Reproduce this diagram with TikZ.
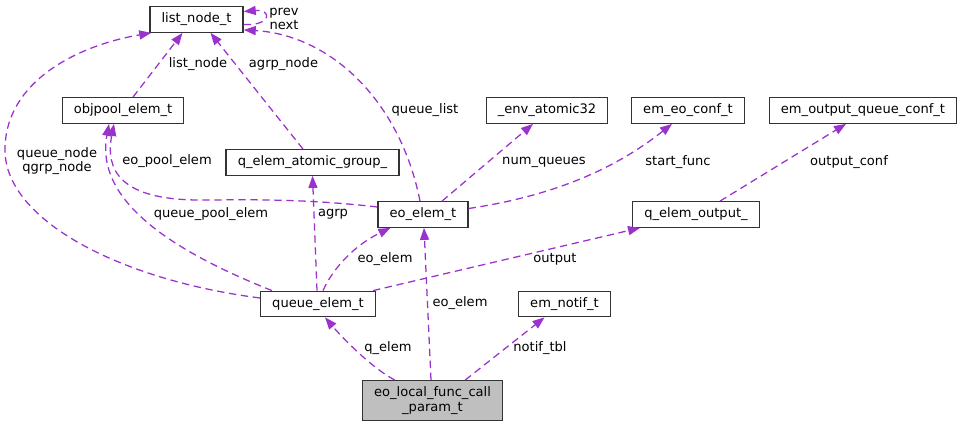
\documentclass[tikz,border=0pt]{standalone}
\usepackage{fontspec}
\setmainfont{DejaVu Sans}
\usepackage{tikz}
\usetikzlibrary{arrows.meta, positioning, calc}
\definecolor{edgepurple}{RGB}{154,50,205}
\definecolor{rootgray}{RGB}{191,191,191}

\begin{document}
\begin{tikzpicture}[x=0.75pt, y=-0.75pt,
		every node/.style={font=\fontsize{9.8pt}{11pt}\selectfont},
		box/.style={draw=black!80, line width=1pt, fill=white, inner xsep=8.7pt, inner ysep=0pt, minimum height=19.1pt},
		edge/.style={draw=edgepurple, line width=0.95pt, dash pattern=on 5.5pt off 3.5pt, -{Triangle[length=9pt, width=6.8pt, fill=edgepurple]}},
		lbl/.style={inner sep=0pt, align=center}]
		
		\useasboundingbox (0,0) rectangle (962,427);
		
		% Structures
		\node[box] (list) at (196.5,19.5) {list\_node\_t};
		\node[box] (objpool) at (123,110.5) {objpool\_elem\_t};
		\node[box] (env) at (547,110.5) {\_env\_atomic32};
		\node[box] (eoconf) at (688,110.5) {em\_eo\_conf\_t};
		\node[box] (outconf) at (863,110.5) {em\_output\_queue\_conf\_t};
		\node[box] (agrp) at (312.5,162.5) {q\_elem\_atomic\_group\_};
		\node[box] (eoelem) at (423,214.5) {eo\_elem\_t};
		\node[box] (qout) at (696,214.5) {q\_elem\_output\_};
		\node[box] (queue) at (318,304) {queue\_elem\_t};
		\node[box] (notif) at (564.5,304) {em\_notif\_t};
		\node[box, fill=rootgray, align=center, minimum height=30pt] (param) at (432.5,400.7) {eo\_local\_func\_call\\\_param\_t};
		
		% Members of list_node_t
		\draw[edge] ($(list.east)+(0,5)$) .. controls (272,26) and (272,9) .. ($(list.east)+(0,-8)$);
		\node[lbl] (l-prev) at (284,19) {prev\\next};
		
		% Members pointing at list_node_t
		\draw[edge] ($(objpool.north)+(10,0)$) -- ($(list.south)+(-14,0)$);
		\node[lbl] (l-listnode) at (198,64) {list\_node};
		\draw[edge] ($(agrp.north)+(-9.5,0)$) -- ($(list.south)+(14,0)$);
		\node[lbl] (l-agrpnode) at (283.5,64) {agrp\_node};
		\draw[edge] ($(eoelem.north)+(-3,0)$) .. controls (400,100) and (330,35) .. ($(list.south east)+(0,-3)$);
		\node[lbl] (l-queuelist) at (425,110) {queue\_list};
		\draw[edge] ($(queue.west)+(0,-6)$) .. controls (120,280) and (5,220) .. (5,150) .. controls (5,80) and (80,45) .. ($(list.south west)+(2,0)$);
		\node[lbl] (l-queuenode) at (57,161) {queue\_node\\qgrp\_node};
		
		% Members pointing at objpool_elem_t
		\draw[edge] ($(eoelem.west)+(0,-7.5)$) .. controls (300,198) and (240,200) .. (200,200) .. controls (120,200) and (105,170) .. ($(objpool.south)+(-9,0)$);
		\node[lbl] (l-eopool) at (167,161) {eo\_pool\_elem};
		\draw[edge] ($(queue.north west)+(12,0)$) .. controls (170,250) and (95,200) .. ($(objpool.south)+(-14,0)$);
		\node[lbl] (l-queuepool) at (211,214) {queue\_pool\_elem};
		
		% Members of eo_elem_t
		\draw[edge] ($(eoelem.north)+(19,0)$) -- ($(env.south)+(-14,0)$);
		\node[lbl] (l-numq) at (544,162) {num\_queues};
		\draw[edge] ($(eoelem.east)+(0,-6)$) .. controls (560,195) and (620,165) .. ($(eoconf.south)+(-16,0)$);
		\node[lbl] (l-start) at (678,162) {start\_func};
		
		% Members of q_elem_output_
		\draw[edge] ($(qout.north)+(24,0)$) -- ($(outconf.south)+(-17,0)$);
		\node[lbl] (l-outconf) at (849,162) {output\_conf};
		
		% Members of queue_elem_t
		\draw[edge] ($(queue.north)+(-1,0)$) -- (agrp.south);
		\node[lbl] (l-agrp) at (333,214) {agrp};
		\draw[edge] ($(queue.north)+(5,0)$) .. controls (333,268) and (355,245) .. ($(eoelem.south west)+(13,0)$);
		\node[lbl] (l-eoelem1) at (385,259) {eo\_elem};
		\draw[edge] ($(queue.north east)+(-3,0)$) -- ($(qout.south west)+(8,0)$);
		\node[lbl] (l-output) at (555,259) {output};
		
		% Members of eo_local_func_call_param_t
		\draw[edge] ($(param.north west)+(33,0)$) .. controls (370,367) and (340,335) .. ($(queue.south)+(7,0)$);
		\node[lbl] (l-qelem) at (388,348) {q\_elem};
		\draw[edge] ($(param.north)+(-1.5,0)$) -- ($(eoelem.south)+(1,0)$);
		\node[lbl] (l-eoelem2) at (460,303) {eo\_elem};
		\draw[edge] ($(param.north east)+(-38,0)$) -- ($(notif.south)+(-20,0)$);
		\node[lbl] (l-notif) at (540,348) {notif\_tbl};
		
	\end{tikzpicture}
\end{document}
